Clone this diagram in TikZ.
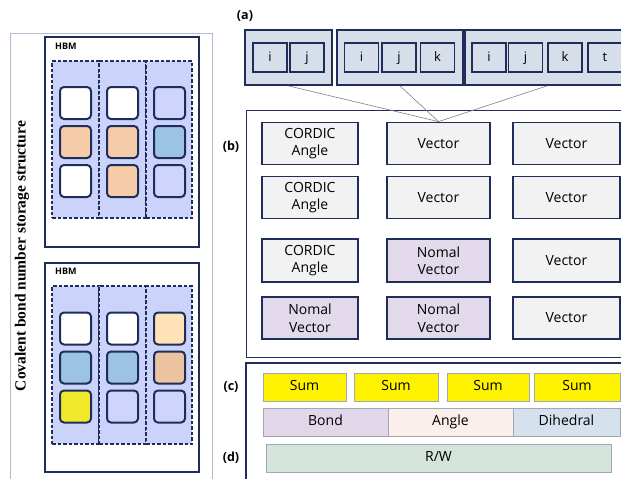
\documentclass[tikz,border=0pt]{standalone}
\usepackage{fontspec}
\setmainfont{Open Sans}
\newfontfamily\serifbold{Liberation Serif}
\usetikzlibrary{positioning}
\definecolor{navy}{RGB}{31,45,90}
\definecolor{framegray}{RGB}{176,188,212}
\definecolor{panelblue}{RGB}{214,222,234}
\definecolor{colfill}{RGB}{204,211,250}
\definecolor{lav}{RGB}{207,213,250}
\definecolor{peach}{RGB}{246,203,168}
\definecolor{skyblue}{RGB}{157,195,226}
\definecolor{lightorange}{RGB}{255,226,181}
\definecolor{tan}{RGB}{235,195,159}
\definecolor{sqyellow}{RGB}{240,233,43}
\definecolor{vecgray}{RGB}{242,242,242}
\definecolor{nomal}{RGB}{226,217,234}
\definecolor{bondc}{RGB}{225,215,232}
\definecolor{anglec}{RGB}{251,239,236}
\definecolor{dihedc}{RGB}{213,225,236}
\definecolor{rwc}{RGB}{212,228,218}
\definecolor{cellgray}{RGB}{160,168,184}
\tikzset{
  hbmbox/.style={draw=navy, line width=1.8pt, fill=white, inner sep=0pt},
  memcol/.style={draw=navy, fill=colfill, line width=1.4pt, dash pattern=on 3.5pt off 2pt, inner sep=0pt, minimum width=47pt, minimum height=157pt},
  cell/.style={draw=navy, line width=2pt, rounded corners=4pt, minimum width=31pt, minimum height=32pt, inner sep=0pt},
  idxouter/.style={draw=navy, line width=1.8pt, fill=panelblue, minimum height=55pt, inner sep=0pt},
  idx/.style={draw=navy, line width=1.8pt, fill=panelblue, minimum width=34pt, minimum height=29pt, inner sep=0pt, text height=10pt, text depth=3pt, font=\fontsize{13}{15}\selectfont},
  unit/.style={draw=navy, line width=1.8pt, minimum height=42pt, inner sep=0pt, align=center, font=\fontsize{14}{17.5}\selectfont},
  flat/.style={draw=cellgray, line width=0.8pt, minimum height=28pt, inner sep=0pt, text height=10.5pt, text depth=3.5pt, font=\fontsize{14}{16}\selectfont},
  tag/.style={font=\bfseries\fontsize{12.5}{15}\selectfont, inner sep=0pt},
  link/.style={draw=gray, line width=0.6pt}
}
\begin{document}
\begin{tikzpicture}[x=1pt,y=-1pt]
\useasboundingbox (0,0) rectangle (621,479);
\begin{scope}
\clip (0,0) rectangle (621,479);

% ---- storage structure frame ----
\draw[framegray, line width=0.8pt] (10,33) rectangle (212,490);
\node[rotate=90, font=\serifbold\bfseries\fontsize{15.5}{18}\selectfont] (title) at (22,256) {Covalent bond number storage structure};

% ---- first HBM ----
\node[hbmbox, minimum width=154pt, minimum height=210pt] (hbmA) at (122,142) {};
\node[anchor=west, font=\bfseries\fontsize{9}{11}\selectfont, inner sep=0pt] (hbmAlbl) at (55,46) {HBM};
\node[memcol] (A1) at (75.5,139.5) {};
\node[memcol] (A2) at (122.5,139.5) {};
\node[memcol, minimum width=46pt] (A3) at (169,139.5) {};
\node[cell, fill=white] (a11) at (75.5,103) {};
\node[cell, fill=peach] (a21) at (75.5,142) {};
\node[cell, fill=white] (a31) at (75.5,181) {};
\node[cell, fill=white] (a12) at (122.5,103) {};
\node[cell, fill=peach] (a22) at (122.5,142) {};
\node[cell, fill=peach] (a32) at (122.5,181) {};
\node[cell, fill=lav] (a13) at (169.5,103) {};
\node[cell, fill=skyblue] (a23) at (169.5,142) {};
\node[cell, fill=lav] (a33) at (169.5,181) {};

% ---- second HBM ----
\node[hbmbox, minimum width=154pt, minimum height=209pt] (hbmB) at (122,367.5) {};
\node[anchor=west, font=\bfseries\fontsize{9}{11}\selectfont, inner sep=0pt] (hbmBlbl) at (55,271) {HBM};
\node[memcol, minimum height=158pt] (B1) at (75.5,365) {};
\node[memcol, minimum height=158pt] (B2) at (122.5,365) {};
\node[memcol, minimum height=158pt, minimum width=46pt] (B3) at (169,365) {};
\node[cell, fill=white] (b11) at (75.5,328.5) {};
\node[cell, fill=skyblue] (b21) at (75.5,367.5) {};
\node[cell, fill=sqyellow] (b31) at (75.5,406.5) {};
\node[cell, fill=white] (b12) at (122.5,328.5) {};
\node[cell, fill=skyblue] (b22) at (122.5,367.5) {};
\node[cell, fill=lav] (b32) at (122.5,406.5) {};
\node[cell, fill=lightorange] (b13) at (169.5,328.5) {};
\node[cell, fill=tan] (b23) at (169.5,367.5) {};
\node[cell, fill=lav] (b33) at (169.5,406.5) {};

% ---- (a) index tuples ----
\node[tag] (la) at (245,16) {(a)};
\node[idxouter, minimum width=87pt] (p1) at (288.5,57.5) {};
\node[idxouter, minimum width=126pt] (p2) at (400,57.5) {};
\node[idxouter, minimum width=164pt] (p3) at (547,57.5) {};
\node[idx] (p1i) at (270,57.5) {i};
\node[idx] (p1j) at (307,57.5) {j};
\node[idx] (p2i) at (361.5,57.5) {i};
\node[idx] (p2j) at (399,57.5) {j};
\node[idx] (p2k) at (437.5,57.5) {k};
\node[idx] (p3i) at (489,57.5) {i};
\node[idx] (p3j) at (525.5,57.5) {j};
\node[idx] (p3k) at (565,57.5) {k};
\node[idx] (p3t) at (605,57.5) {t};

% ---- (b) compute units ----
\node[tag] (lb) at (231,147) {(b)};
\draw[navy, line width=0.9pt] (246,110) rectangle (630,357);
\node[unit, fill=vecgray, minimum width=96pt] (u11) at (310,143.5) {CORDIC\\Angle};
\node[unit, fill=vecgray, minimum width=103pt] (u12) at (438.5,143.5) {Vector};
\node[unit, fill=vecgray, minimum width=107pt] (u13) at (566.5,143.5) {Vector};
\node[unit, fill=vecgray, minimum width=96pt] (u21) at (310,197.5) {CORDIC\\Angle};
\node[unit, fill=vecgray, minimum width=103pt] (u22) at (438.5,197.5) {Vector};
\node[unit, fill=vecgray, minimum width=107pt] (u23) at (566.5,197.5) {Vector};
\node[unit, fill=vecgray, minimum width=96pt, minimum height=43pt] (u31) at (310,260.5) {CORDIC\\Angle};
\node[unit, fill=nomal, minimum width=103pt, minimum height=43pt] (u32) at (438.5,260.5) {Nomal\\Vector};
\node[unit, fill=vecgray, minimum width=107pt, minimum height=43pt] (u33) at (566.5,260.5) {Vector};
\node[unit, fill=nomal, minimum width=96pt] (u41) at (310,318) {Nomal\\Vector};
\node[unit, fill=nomal, minimum width=103pt] (u42) at (438.5,318) {Nomal\\Vector};
\node[unit, fill=vecgray, minimum width=107pt] (u43) at (566.5,318) {Vector};

\draw[link] (p1.south) -- (u12.north);
\draw[link] (p2.south) -- (u12.north);
\draw[link] (p3.south) -- (u12.north);

% ---- (c) sums and (d) read/write ----
\node[tag] (lc) at (231,387) {(c)};
\node[tag] (ld) at (231,458) {(d)};
\draw[navy, line width=1.8pt] (246,363) rectangle (630,495);
\node[flat, fill=yellow, minimum width=83pt] (s1) at (304.5,387) {Sum};
\node[flat, fill=yellow, minimum width=84pt] (s2) at (396,387) {Sum};
\node[flat, fill=yellow, minimum width=82pt] (s3) at (488,387) {Sum};
\node[flat, fill=yellow, minimum width=86pt] (s4) at (577,387) {Sum};
\node[flat, fill=bondc, minimum width=125pt] (bond) at (325.5,422) {Bond};
\node[flat, fill=anglec, minimum width=125pt] (angle) at (450.5,422) {Angle};
\node[flat, fill=dihedc, minimum width=107pt] (dihed) at (566.5,422) {Dihedral};
\node[flat, fill=rwc, minimum width=345pt] (rw) at (438.5,458) {R/W};
\end{scope}
\end{tikzpicture}
\end{document}
